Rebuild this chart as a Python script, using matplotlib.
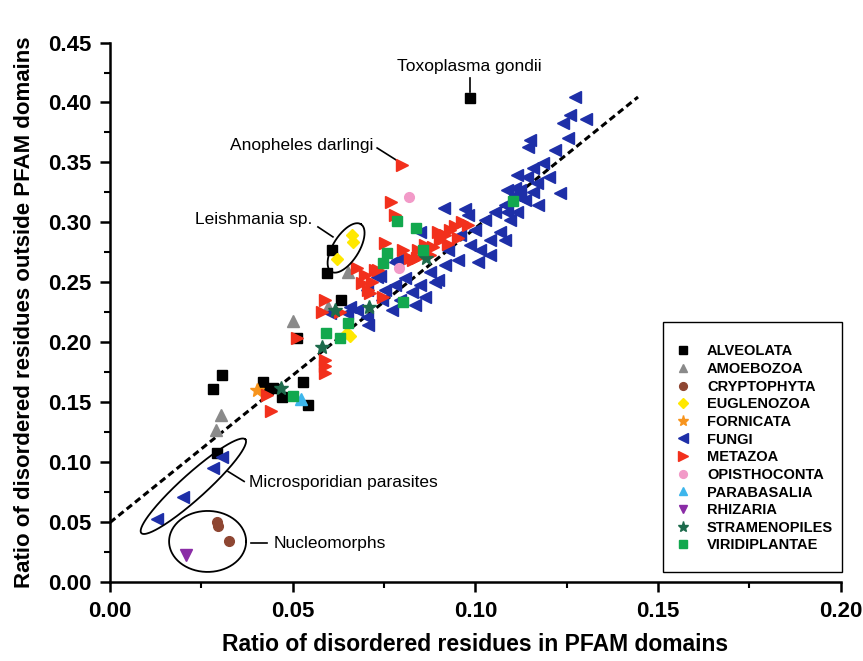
import numpy as np
import matplotlib
matplotlib.use("Agg")
import matplotlib.pyplot as plt
from matplotlib.ticker import MultipleLocator, FormatStrFormatter
from matplotlib.patches import Rectangle

plt.rcParams['font.family'] = ['Liberation Sans Narrow', 'Liberation Sans', 'DejaVu Sans']

# ---------------- data ----------------
alveolata_x = [0.0985, 0.0607, 0.0595, 0.0631, 0.0511, 0.0306, 0.0281, 0.0420, 0.0433, 0.0447, 0.0470, 0.0529, 0.0543, 0.0292]
alveolata_y = [0.4035, 0.2770, 0.2580, 0.2354, 0.2035, 0.1730, 0.1610, 0.1667, 0.1610, 0.1620, 0.1546, 0.1668, 0.1475, 0.1077]

amoebozoa_x = [0.0650, 0.0597, 0.0500, 0.0303, 0.0289]
amoebozoa_y = [0.2590, 0.2298, 0.2175, 0.1396, 0.1270]

cryptophyta_x = [0.0292, 0.0296, 0.0326]
cryptophyta_y = [0.0507, 0.0471, 0.0343]

euglenozoa_x = [0.0661, 0.0664, 0.0620, 0.0648, 0.0657]
euglenozoa_y = [0.2896, 0.2840, 0.2693, 0.2077, 0.2054]

fornicata_x = [0.0401]
fornicata_y = [0.1604]

fungi_x = [0.0129, 0.0201, 0.0283, 0.0306,
           0.0602, 0.0648, 0.0675, 0.0703, 0.0707, 0.0739, 0.0785, 0.0848, 0.0914, 0.0972,
           0.0780, 0.0771, 0.0862, 0.0889, 0.0917, 0.0953, 0.0876, 0.0898, 0.0926,
           0.0753, 0.0780, 0.0807, 0.0827, 0.0848, 0.0794, 0.0835, 0.0744,
           0.1013, 0.1040, 0.1067, 0.0999, 0.1026, 0.1054, 0.1081, 0.1095, 0.1108, 0.1122,
           0.0985, 0.0958, 0.1081, 0.1040, 0.1007, 0.0980,
           0.1273, 0.1259, 0.1303, 0.1239, 0.1149, 0.1145, 0.1254, 0.1218, 0.1232, 0.1186,
           0.1158, 0.1200, 0.1113, 0.1140, 0.1168, 0.1086, 0.1108, 0.1158, 0.1122, 0.1172,
           0.1086, 0.1113, 0.1136, 0.0703, 0.0730, 0.0657]
fungi_y = [0.0529, 0.0715, 0.0952, 0.1043,
           0.2243, 0.2243, 0.2271, 0.2215, 0.2146, 0.2554, 0.2688, 0.2923, 0.3118, 0.3110,
           0.2673, 0.2271, 0.2382, 0.2507, 0.2646, 0.2688, 0.2590, 0.2520, 0.2771,
           0.2438, 0.2480, 0.2538, 0.2420, 0.2480, 0.2354, 0.2313, 0.2354,
           0.2771, 0.2854, 0.2920, 0.2938, 0.3020, 0.3088, 0.3146, 0.3020, 0.3230, 0.3270,
           0.2813, 0.2896, 0.2854, 0.2730, 0.2670, 0.3060,
           0.4048, 0.3896, 0.3860, 0.3827, 0.3688, 0.3632, 0.3702, 0.3604, 0.3243, 0.3493,
           0.3452, 0.3382, 0.3396, 0.3382, 0.3327, 0.3271, 0.3285, 0.3257, 0.3215, 0.3146,
           0.3090, 0.3090, 0.3188, 0.2438, 0.2548, 0.2298]

metazoa_x = [0.0798, 0.0768, 0.0780, 0.0753, 0.0803, 0.0830,
             0.0884, 0.0903, 0.0917, 0.0930, 0.0944, 0.0963, 0.0980, 0.0898, 0.0925, 0.0952, 0.0876,
             0.0676, 0.0698, 0.0717, 0.0690, 0.0725, 0.0706, 0.0733,
             0.0588, 0.0579, 0.0588, 0.0588, 0.0588, 0.0511, 0.0440, 0.0429,
             0.0629, 0.0748, 0.0712,
             0.0821, 0.0843, 0.0862, 0.0839]
metazoa_y = [0.3479, 0.3173, 0.3063, 0.2827, 0.2771, 0.2688,
             0.2796, 0.2854, 0.2896, 0.2938, 0.2971, 0.3004, 0.2979, 0.2921, 0.2820, 0.2870, 0.2730,
             0.2621, 0.2563, 0.2504, 0.2496, 0.2604, 0.2438, 0.2604,
             0.2354, 0.2257, 0.1854, 0.1804, 0.1746, 0.2035, 0.1432, 0.1563,
             0.2257, 0.2382, 0.2410,
             0.2704, 0.2771, 0.2813, 0.2702]

opisthoconta_x = [0.0819, 0.0792]
opisthoconta_y = [0.3210, 0.2618]

parabasalia_x = [0.0523]
parabasalia_y = [0.1525]

rhizaria_x = [0.0207]
rhizaria_y = [0.0229]

stramenopiles_x = [0.0467, 0.0579, 0.0616, 0.0710, 0.0865]
stramenopiles_y = [0.1618, 0.1965, 0.2271, 0.2298, 0.2702]

viridiplantae_x = [0.0500, 0.0591, 0.0628, 0.0652, 0.0759, 0.0746, 0.0786, 0.0837, 0.0857, 0.0801, 0.1104]
viridiplantae_y = [0.1557, 0.2077, 0.2035, 0.2160, 0.2743, 0.2665, 0.3015, 0.2952, 0.2771, 0.2340, 0.3182]

groups = ["ALVEOLATA", "AMOEBOZOA", "CRYPTOPHYTA", "EUGLENOZOA", "FORNICATA", "FUNGI",
          "METAZOA", "OPISTHOCONTA", "PARABASALIA", "RHIZARIA", "STRAMENOPILES", "VIRIDIPLANTAE"]
xs = [alveolata_x, amoebozoa_x, cryptophyta_x, euglenozoa_x, fornicata_x, fungi_x,
      metazoa_x, opisthoconta_x, parabasalia_x, rhizaria_x, stramenopiles_x, viridiplantae_x]
ys = [alveolata_y, amoebozoa_y, cryptophyta_y, euglenozoa_y, fornicata_y, fungi_y,
      metazoa_y, opisthoconta_y, parabasalia_y, rhizaria_y, stramenopiles_y, viridiplantae_y]
markers = ['s', '^', 'o', 'D', '*', '<', '>', 'o', '^', 'v', '*', 's']
colors = ['#000000', '#8a8a8a', '#8e4632', '#ffe800', '#f7941d', '#1e2fa8',
          '#f2301c', '#f29ac8', '#3db6ec', '#8a2ca6', '#1d6b4c', '#12a84e']
sizes = [6.5, 8, 7, 6, 10, 9, 9, 7, 8, 8, 10, 6.5]

fit_x = [0.0, 0.1445]
fit_y = [0.05, 0.4046]

# ---------------- figure ----------------
fig = plt.figure(figsize=(8.63, 6.61), dpi=100)
ax = fig.add_axes([0.1275, 0.1188, 0.8468, 0.8169])

ax.plot(fit_x, fit_y, color='black', lw=2.2, ls=(0, (2.2, 1.3)), zorder=1)

handles = []
for i in range(len(groups)):
    h, = ax.plot(xs[i], ys[i], ls='none', marker=markers[i], color=colors[i],
                 mec=colors[i], ms=sizes[i], zorder=3, label=groups[i])
    handles.append(h)

ax.set_xlim(0, 0.20)
ax.set_ylim(0, 0.45)
ax.xaxis.set_major_locator(MultipleLocator(0.05))
ax.xaxis.set_minor_locator(MultipleLocator(0.025))
ax.yaxis.set_major_locator(MultipleLocator(0.05))
ax.yaxis.set_minor_locator(MultipleLocator(0.025))
ax.xaxis.set_major_formatter(FormatStrFormatter('%.2f'))
ax.yaxis.set_major_formatter(FormatStrFormatter('%.2f'))
for s in ['top', 'right']:
    ax.spines[s].set_visible(False)
for s in ['left', 'bottom']:
    ax.spines[s].set_linewidth(1.8)
ax.tick_params(which='major', direction='out', length=7, width=1.8, labelsize=16, pad=6)
ax.tick_params(which='minor', direction='out', length=4.5, width=1.5)
for lab in ax.get_xticklabels() + ax.get_yticklabels():
    lab.set_fontweight('bold')

ax.set_xlabel('Ratio of disordered residues in PFAM domains', fontsize=16.5, fontweight='bold', labelpad=8)
ax.set_ylabel('Ratio of disordered residues outside PFAM domains', fontsize=16, fontweight='bold', labelpad=10)

# ---------------- annotations ----------------
SX, SY = 3654.0, 1200.0  # reference pixels per data unit

def ellipse(cx, cy, a, b, ang_deg):
    t = np.linspace(0, 2 * np.pi, 200)
    th = np.deg2rad(ang_deg)
    dx = a * np.cos(t) * np.cos(th) - b * np.sin(t) * np.sin(th)
    dy = a * np.cos(t) * np.sin(th) + b * np.sin(t) * np.cos(th)
    ax.plot(cx + dx / SX, cy + dy / SY, color='black', lw=1.3, zorder=4)

ellipse(0.0646, 0.2788, 28, 13, 58)
ellipse(0.0228, 0.0802, 70, 12.5, 42)
ellipse(0.0267, 0.0342, 38.5, 30.5, 0)

tfs = 12.5
fam = ['Liberation Sans', 'DejaVu Sans']
ax.text(0.0982, 0.4296, 'Toxoplasma gondii', ha='center', va='center', fontsize=tfs, family=fam)
ax.plot([0.0985, 0.0985], [0.4204, 0.4088], color='black', lw=1.2)
ax.text(0.0720, 0.3638, 'Anopheles darlingi', ha='right', va='center', fontsize=tfs, family=fam)
ax.plot([0.0731, 0.0783], [0.3621, 0.3521], color='black', lw=1.2)
ax.text(0.0553, 0.3029, 'Leishmania sp.', ha='right', va='center', fontsize=tfs, family=fam)
ax.plot([0.0569, 0.0610], [0.2963, 0.2880], color='black', lw=1.2)
ax.text(0.0380, 0.0829, 'Microsporidian parasites', ha='left', va='center', fontsize=tfs, family=fam)
ax.plot([0.0323, 0.0367], [0.0925, 0.0842], color='black', lw=1.2)
ax.text(0.0449, 0.0325, 'Nucleomorphs', ha='left', va='center', fontsize=tfs, family=fam)
ax.plot([0.0386, 0.0430], [0.0329, 0.0329], color='black', lw=1.2)

# legend box (frame drawn separately to match asymmetric padding)
ax.add_patch(Rectangle((0.7567, 0.0194), 0.2449, 0.4630, transform=ax.transAxes,
                       facecolor='white', edgecolor='black', lw=1.0, zorder=5, clip_on=False))
leg = ax.legend(handles=handles, loc='upper left', bbox_to_anchor=(0.774, 0.4410),
                frameon=False, prop={'family': ['Liberation Sans', 'DejaVu Sans'], 'weight': 'bold', 'size': 10.5},
                handlelength=1.0, handletextpad=1.15, labelspacing=0.25,
                borderpad=0, borderaxespad=0, markerscale=0.8)
leg.set_zorder(6)

fig.savefig('out.png', dpi=100)
